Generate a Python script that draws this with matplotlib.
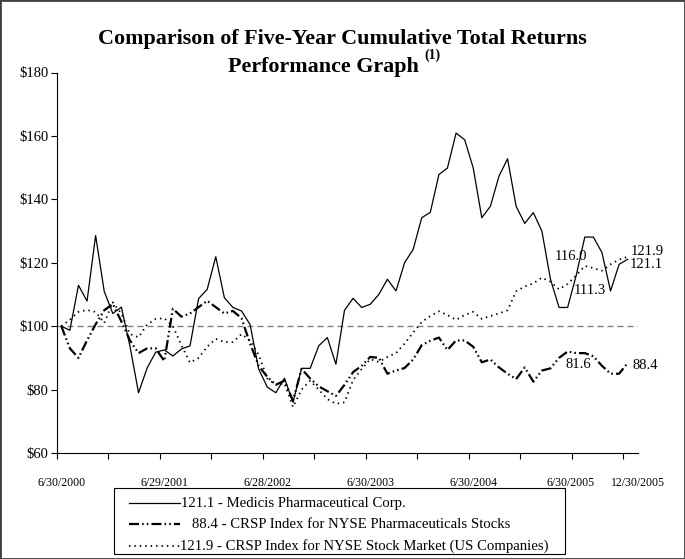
import numpy as np
import matplotlib
matplotlib.use("Agg")
import matplotlib.pyplot as plt
from matplotlib.patches import Rectangle
from matplotlib.lines import Line2D

plt.rcParams['font.family'] = ['Liberation Serif', 'DejaVu Serif']

# month-end points, 6/30/2000 .. 12/30/2005
medicis = [100, 98.7, 112.9, 107.9, 128.6, 111, 104, 106, 93.7, 79,
           86.8, 91.8, 92.5, 90.6, 92.8, 93.8, 108.7, 111.6, 121.9, 109,
           105.9, 104.8, 100.5, 86.5, 80.8, 79, 83.6, 76, 86.7, 86.7,
           93.8, 96.4, 88, 105, 108.8, 105.9, 106.9, 110, 114.8, 111.1,
           120, 124.2, 134.2, 135.9, 147.8, 149.9, 160.9, 158.8, 149.9, 134.2,
           137.8, 147.3, 152.8, 137.8, 132.4, 135.8, 130, 114.8, 105.9, 105.9,
           116.0, 128.1, 128.1, 123.2, 111.1, 119.5, 121.1]
pharma = [100, 93, 90, 95.5, 100.6, 105, 107, 101.5, 95.5, 91.5,
          93, 93, 89, 105.5, 103, 104, 106, 108, 106, 104,
          104.8, 102.5, 94.5, 87.5, 84, 81.5, 82.8, 76.5, 86.5, 83.5,
          81, 79.5, 78, 81.5, 85.5, 87.5, 90.3, 90, 85, 86,
          86.8, 89.5, 94, 95.4, 96.4, 92.5, 95.5, 95.5, 93.5, 88.6,
          89.5, 87, 85, 83.3, 87, 82.5, 86, 86.7, 90, 92,
          91.5, 91.5, 90.5, 87.5, 85, 85, 88.4]
market = [100, 102, 104.5, 105.1, 104.5, 101, 107.5, 104, 97.5, 96.5,
          100.5, 102.3, 102.5, 100, 94, 88.5, 90, 93.5, 96, 95,
          95, 97.5, 95.5, 91, 83.5, 81.5, 82, 74.5, 80, 82.8,
          80, 77, 75.5, 76, 83, 86.5, 89.6, 88.7, 90.3, 91.5,
          94.5, 98, 101.3, 103.2, 104.7, 103.5, 102, 103.5, 104.5, 102.3,
          103.2, 104, 105, 111, 112.5, 113.5, 115.3, 114, 111.6, 113.3,
          116, 119, 118.3, 117.5, 119.5, 121, 121.9]

date_labels = ["6/30/2000", "6/29/2001", "6/28/2002", "6/30/2003",
               "6/30/2004", "6/30/2005", "12/30/2005"]
legend_labels = ["121.1 - Medicis Pharmaceutical Corp.",
                 "88.4 - CRSP Index for NYSE Pharmaceuticals Stocks",
                 "121.9 - CRSP Index for NYSE Stock Market (US Companies)"]

W, H = 685, 559
x = np.arange(len(medicis))

fig = plt.figure(figsize=(W / 100, H / 100), dpi=100)
ax = fig.add_axes([57 / W, 1 - 453 / H, 581 / W, 380.5 / H])

pharma_ls = (0, (4.5, 1.4, 0.7, 1.4, 0.7, 1.4))
market_ls = (0, (0.8, 2.2))

ax.axhline(100, color="#808080", lw=1, linestyle=(0, (4.3, 2.9)))
ax.plot(x, medicis, color="black", lw=0.9)
ax.plot(x, pharma, color="black", lw=1.6, linestyle=pharma_ls)
ax.plot(x, market, color="black", lw=1.3, linestyle=market_ls)

ax.set_xlim(-0.5, len(medicis) - 0.5)
ax.set_ylim(60, 180)
ax.set_yticks(np.arange(60, 181, 20))
ax.set_yticklabels(["$%d" % v for v in range(60, 181, 20)], fontsize=10.5)
ax.tick_params(axis="y", length=4, width=0.8, pad=2, direction="out")

ax.set_xticks(np.arange(-0.5, len(medicis), 6), minor=True)
ax.set_xticks([0, 12, 24, 36, 48, 59.4, 67.2])
ax.set_xticklabels(date_labels, fontsize=8.5)
ax.tick_params(axis="x", which="major", length=0, pad=17)
ax.tick_params(axis="x", which="minor", length=4, width=0.8, direction="out")

for s in ["top", "right"]:
    ax.spines[s].set_visible(False)
for s in ["left", "bottom"]:
    ax.spines[s].set_linewidth(0.8)

# value labels at the right
ann = dict(fontsize=10.5, va="center", ha="left", clip_on=False)
ax.text(57.5, 121.9, "116.0", **ann)
ax.text(59.7, 111.1, "111.3", **ann)
ax.text(58.8, 87.8, "81.6", **ann)
ax.text(66.4, 123.7, "121.9", **ann)
ax.text(66.2, 119.3, "121.1", **ann)
ax.text(66.6, 87.5, "88.4", **ann)

# title
fig.text(0.5, 1 - 44 / H, "Comparison of Five-Year Cumulative Total Returns",
         ha="center", va="baseline", fontsize=15.8, fontweight="bold")
fig.text(323 / W, 1 - 72 / H, "Performance Graph",
         ha="center", va="baseline", fontsize=15.8, fontweight="bold")
fig.text(424 / W, 1 - 59 / H, "(1)", ha="left", va="baseline",
         fontsize=10, fontweight="bold")

# legend drawn by hand
fig.patches.append(Rectangle((114 / W, 1 - 554 / H), 451 / W, 66 / H,
                             transform=fig.transFigure, fill=False,
                             edgecolor="black", lw=0.8))
rows = [503, 524, 546]
styles = [dict(lw=0.9, linestyle="-"),
          dict(lw=1.6, linestyle=pharma_ls),
          dict(lw=1.3, linestyle=market_ls)]
text_x = [181, 192, 180]
for r, st, tx, lab in zip(rows, styles, text_x, legend_labels):
    fig.add_artist(Line2D([129 / W, 180 / W], [1 - r / H, 1 - r / H],
                          transform=fig.transFigure, color="black", **st))
    fig.text(tx / W, 1 - r / H, lab, ha="left", va="center", fontsize=10.6)

fig.patches.append(Rectangle((0, 0), 1, 1, transform=fig.transFigure,
                             fill=False, edgecolor="#404040", lw=2))

fig.savefig("out.png", dpi=100)
